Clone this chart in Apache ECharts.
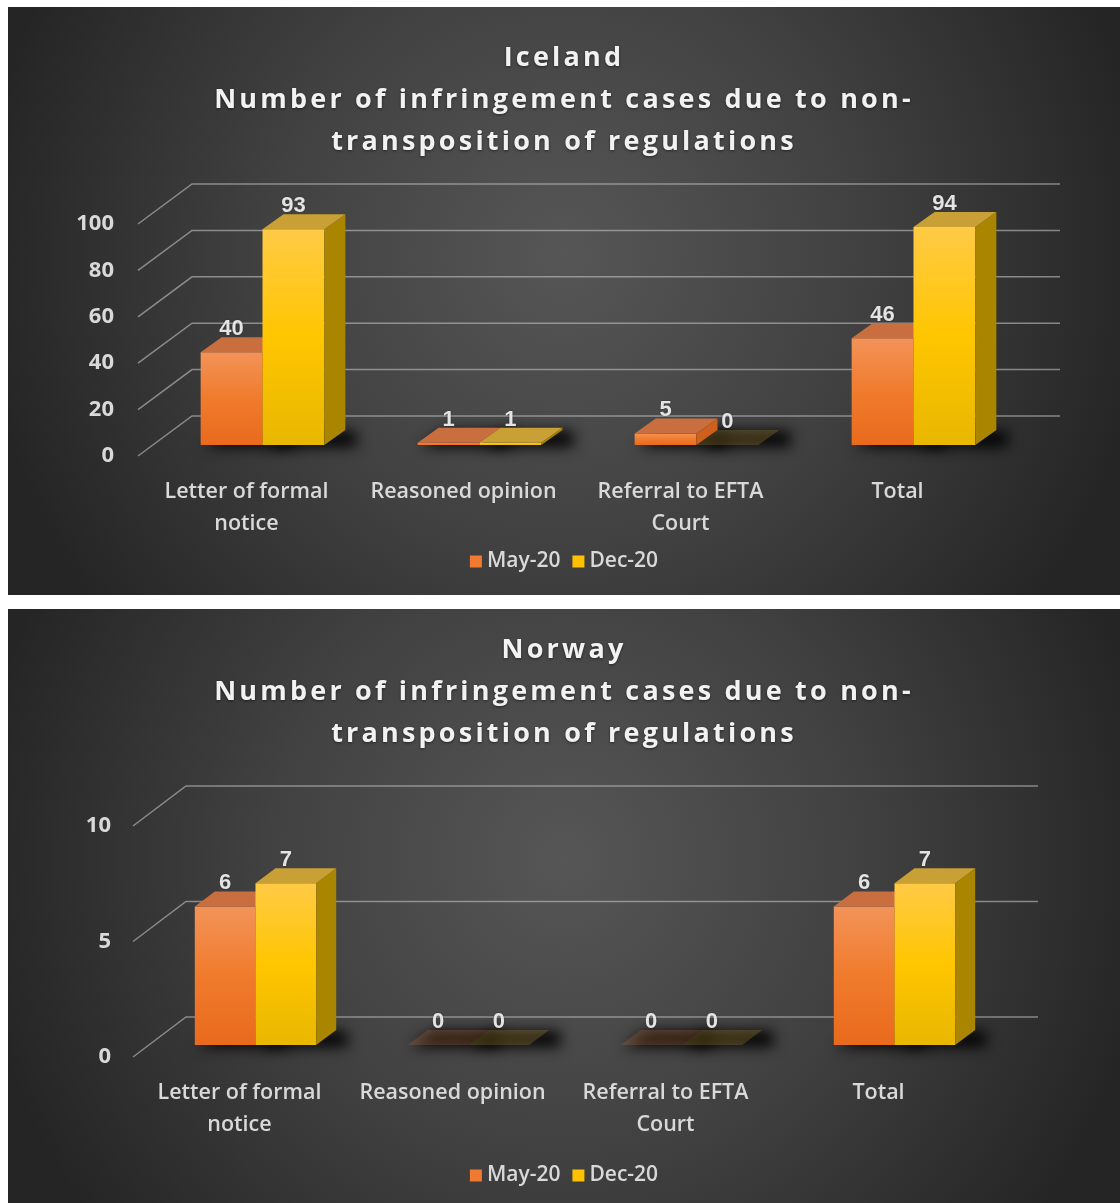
<!DOCTYPE html>
<html><head><meta charset="utf-8">
<script src="https://cdn.jsdelivr.net/npm/echarts@6/dist/echarts.min.js"></script>
<style>
body{margin:0;background:#fff;width:1120px;height:1203px;position:relative;overflow:hidden}
#c1{position:absolute;left:8px;top:7px;width:1112px;height:588px}
#c2{position:absolute;left:8px;top:609px;width:1112px;height:594px}
</style></head>
<body><div id="c1"></div><div id="c2"></div>
<script>
// ---- data ----
const categories = ['Letter of formal\nnotice', 'Reasoned opinion', 'Referral to EFTA\nCourt', 'Total'];
const seriesNames = ['May-20', 'Dec-20'];
const icelandMay = [40, 1, 5, 46];
const icelandDec = [93, 1, 0, 94];
const norwayMay = [6, 0, 0, 6];
const norwayDec = [7, 0, 0, 7];
const icelandTicks = [0, 20, 40, 60, 80, 100];
const norwayTicks = [0, 5, 10];
const icelandTitle = 'Iceland\nNumber of infringement cases due to non-\ntransposition of regulations';
const norwayTitle = 'Norway\nNumber of infringement cases due to non-\ntransposition of regulations';

// title letter spacing (Excel-style spaced title)
(function () {
  const P = CanvasRenderingContext2D.prototype;
  const orig = P.fillText;
  P.fillText = function (t, x, y, m) {
    if ('letterSpacing' in this) this.letterSpacing = this.font.indexOf('27px') >= 0 ? '3.2px' : '0px';
    return m === undefined ? orig.call(this, t, x, y) : orig.call(this, t, x, y, m);
  };
})();

// ---- styles ----
const palette = [
  { legend: '#f07a30', front: ['#f39359', '#f07b2c', '#e96a1d'], top: '#c96f3f', side: '#cf5f1c' },
  { legend: '#ffc000', front: ['#ffca45', '#ffc600', '#e8b700'], top: '#c9a035', side: '#a98500' }
];
const bg = {
  type: 'radial', x: 0.5, y: 0.42, r: 1.0,
  colorStops: [{ offset: 0, color: '#565656' }, { offset: 0.5, color: '#414141' }, { offset: 1, color: '#252525' }]
};
const OFF = 3000; // shadow-only trick: shape drawn off-canvas, its shadow cast back

function gridRender(cfg) {
  return function (params, api) {
    const y = api.coord([0, api.value(1)])[1];
    const r = params.coordSys;
    const fx = cfg.floor[0], fy = cfg.floor[1];
    return {
      type: 'polyline', silent: true,
      shape: { points: [[r.x, y], [r.x + fx, y + fy], [r.x + r.width + fx, y + fy]] },
      style: { stroke: 'rgba(190,190,190,0.62)', lineWidth: 1.5, fill: null }
    };
  };
}

function barRender(sIdx, cfg) {
  return function (params, api) {
    const cat = api.value(0), val = api.value(1);
    const base = api.coord([cat, 0]);
    const top = api.coord([cat, val]);
    const band = api.size([1, 0])[0];
    const bw = band * 0.285;
    const cx = base[0] + cfg.plane[0];
    const x0 = sIdx === 0 ? cx - bw : cx;
    const by = base[1] + cfg.plane[1];
    const ty = top[1] + cfg.plane[1];
    const dx = cfg.depth[0], dy = cfg.depth[1];
    const c = palette[sIdx];
    const zero = val === 0;
    const ch = [];
    ch.push({
      type: 'polygon', z2: -10, silent: true,
      shape: { points: [[x0 - 2 - OFF, by + 2], [x0 + bw + dx + 6 - OFF, by + 2], [x0 + bw + dx + 6 - OFF, by + dy + 1], [x0 + dx - OFF, by + dy + 1]] },
      style: { fill: '#000', shadowBlur: 14, shadowColor: 'rgba(0,0,0,0.95)', shadowOffsetX: OFF + 5, shadowOffsetY: 0 }
    });
    if (!zero) {
      ch.push({
        type: 'rect', shape: { x: x0, y: ty, width: bw, height: by - ty },
        style: { fill: new echarts.graphic.LinearGradient(0, 0, 0, 1, [
          { offset: 0, color: c.front[0] }, { offset: 0.5, color: c.front[1] }, { offset: 1, color: c.front[2] }]) }
      });
      ch.push({
        type: 'polygon',
        shape: { points: [[x0 + bw, ty], [x0 + bw + dx, ty + dy], [x0 + bw + dx, by + dy], [x0 + bw, by]] },
        style: { fill: c.side }
      });
    }
    ch.push({
      type: 'polygon',
      shape: { points: [[x0, ty], [x0 + bw, ty], [x0 + bw + dx, ty + dy], [x0 + dx, ty + dy]] },
      style: { fill: c.top, opacity: zero ? 0.24 : 1 }
    });
    ch.push({
      type: 'text', z2: 100, silent: true,
      style: {
        text: String(val), x: x0 + bw / 2, y: ty + dy - 8, align: 'center', verticalAlign: 'middle',
        font: 'bold 22px "Liberation Sans", Arial, sans-serif', fill: '#e4e4e4',
        textShadowColor: 'rgba(0,0,0,0.35)', textShadowBlur: 2
      }
    });
    return { type: 'group', children: ch };
  };
}

function makeOption(cfg) {
  const series = [{
    type: 'custom', name: 'grid', z: 1, silent: true,
    data: cfg.ticks.map(t => [0, t]), encode: { x: 0, y: 1 },
    renderItem: gridRender(cfg)
  }];
  [cfg.may, cfg.dec].forEach((vals, s) => {
    series.push({
      type: 'custom', name: seriesNames[s], z: 3,
      itemStyle: { color: palette[s].legend },
      data: vals.map((v, i) => [i, v]), encode: { x: 0, y: 1 },
      renderItem: barRender(s, cfg)
    });
  });
  return {
    backgroundColor: bg,
    animation: false,
    title: {
      text: cfg.title, left: 'center', top: cfg.titleTop,
      textStyle: {
        color: '#f2f2f2', fontFamily: '"Open Sans", sans-serif', fontWeight: 'bold', fontSize: 27, lineHeight: 42,
        textShadowColor: 'rgba(0,0,0,0.5)', textShadowBlur: 3, textShadowOffsetY: 1
      }
    },
    legend: {
      data: seriesNames, top: cfg.legendTop, left: 'center', icon: 'rect', itemWidth: 12, itemHeight: 12, itemGap: 12,
      textStyle: { color: '#d9d9d9', fontFamily: '"Open Sans", sans-serif', fontWeight: 600, fontSize: 21 }
    },
    grid: { left: cfg.grid[0], right: cfg.grid[1], top: cfg.grid[2], bottom: cfg.grid[3], outerBoundsMode: 'none', containLabel: false },
    xAxis: {
      type: 'category', data: categories, boundaryGap: true,
      axisLine: { show: false }, axisTick: { show: false }, splitLine: { show: false },
      axisLabel: { color: '#d9d9d9', fontFamily: '"Open Sans", sans-serif', fontWeight: 600, fontSize: 21.5, lineHeight: 32, margin: 20, interval: 0 }
    },
    yAxis: {
      type: 'value', min: 0, max: cfg.max, interval: cfg.interval,
      axisLine: { show: false }, axisTick: { show: false }, splitLine: { show: false },
      axisLabel: { color: '#d9d9d9', fontFamily: '"Open Sans", sans-serif', fontWeight: 'bold', fontSize: 22, margin: cfg.labelMargin }
    },
    series: series
  };
}

const c1 = echarts.init(document.getElementById('c1'));
c1.setOption(makeOption({
  title: icelandTitle, titleTop: 25, legendTop: 539,
  grid: [130, 114, 217, 139], max: 100, interval: 20, ticks: icelandTicks, labelMargin: 24,
  plane: [16, -11], depth: [21, -15], floor: [54, -40],
  may: icelandMay, dec: icelandDec
}));
const c2 = echarts.init(document.getElementById('c2'));
c2.setOption(makeOption({
  title: norwayTitle, titleTop: 15, legendTop: 551,
  grid: [125, 135, 217, 146], max: 10, interval: 5, ticks: norwayTicks, labelMargin: 22,
  plane: [16, -12], depth: [20, -15], floor: [53, -40],
  may: norwayMay, dec: norwayDec
}));
</script>
</body></html>
